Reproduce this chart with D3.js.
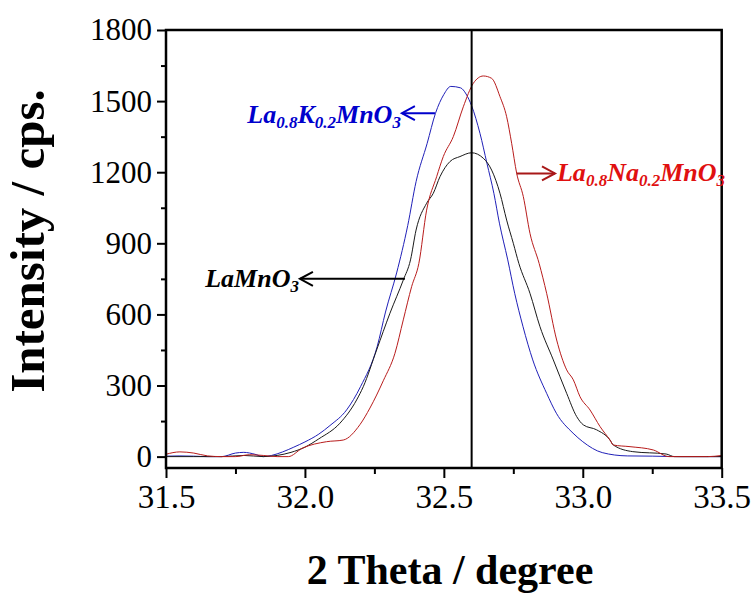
<!DOCTYPE html>
<html>
<head>
<meta charset="utf-8">
<script src="https://cdn.jsdelivr.net/npm/d3@7"></script>
<style>
  html, body { margin: 0; padding: 0; background: #fff; }
  svg { display: block; }
  text { font-family: "Liberation Serif", "Times New Roman", serif; }
</style>
</head>
<body>
<svg id="chart" width="755" height="593"></svg>
<script>
// ---------------- data ----------------
const thetaK = [31.50,31.55,31.60,31.65,31.70,31.75,31.78,31.82,31.85,31.88,31.92,31.96,32.00,32.05,32.09,32.15,32.20,32.26,32.29,32.33,32.37,32.40,32.44,32.47,32.50,32.525,32.56,32.58,32.60,32.63,32.655,32.68,32.70,32.73,32.755,32.785,32.82,32.87,32.905,32.965,33.00,33.07,33.16,33.25,33.35,33.50];
const intK   = [2,3,2,0,0,15,18,10,0,5,20,40,62,95,131,197,295,464,610,775,975,1160,1322,1449,1528,1562,1556,1530,1480,1364,1238,1111,985,830,689,548,408,267,183,99,63,17,3,2,0,0];

const thetaLa = [31.50,31.60,31.70,31.78,31.85,31.90,31.95,32.00,32.05,32.126,32.186,32.21,32.258,32.306,32.354,32.38,32.40,32.438,32.462,32.486,32.522,32.558,32.60,32.642,32.672,32.702,32.726,32.75,32.77,32.81,32.846,32.894,32.942,32.978,33.002,33.05,33.098,33.11,33.18,33.30,33.33,33.50];
const intLa   = [0,0,0,5,0,5,18,40,75,141,239,295,450,605,745,830,956,1069,1111,1181,1245,1266,1282,1259,1209,1111,998,900,815,689,548,408,267,169,134,113,70,49,21,11,0,0];

const thetaNa = [31.50,31.55,31.60,31.65,31.70,31.75,31.80,31.85,31.90,31.94,31.99,32.078,32.138,32.198,32.234,32.282,32.324,32.354,32.384,32.41,32.438,32.474,32.498,32.534,32.57,32.606,32.642,32.672,32.702,32.726,32.744,32.762,32.786,32.81,32.843,32.87,32.906,32.942,32.966,32.99,33.026,33.062,33.098,33.11,33.17,33.254,33.31,33.45,33.50];
const intNa   = [10,20,15,3,0,0,8,5,0,0,35,63,70,135,205,320,436,577,717,815,1040,1181,1266,1350,1476,1575,1606,1596,1519,1434,1322,1196,1097,942,815,689,492,366,324,253,197,127,70,49,42,28,0,0,5];

const xTicks = [31.5, 32.0, 32.5, 33.0, 33.5];
const yTicks = [0, 300, 600, 900, 1200, 1500, 1800];
const refLine = 32.6;

// labels: segments [text, isSubscript]
const labelK  = [["La",0],["0.8",1],["K",0],["0.2",1],["MnO",0],["3",1]];
const labelNa = [["La",0],["0.8",1],["Na",0],["0.2",1],["MnO",0],["3",1]];
const labelLa = [["LaMnO",0],["3",1]];

// annotation arrows in data space: [tail theta, tip theta, intensity]
const arrowK  = [32.468, 32.349, 1449];
const arrowNa = [32.762, 32.900, 1195];
const arrowLa = [32.360, 31.982, 750];

// ---------------- chart ----------------
const svg = d3.select("#chart");
const L = 166, R = 721.7, T = 30, B = 468;
const x = d3.scaleLinear().domain([31.5, 33.5]).range([L, R]);
const y = d3.scaleLinear().domain([-48, 1800]).range([B, T]);

const serif = '"Liberation Serif", "Times New Roman", serif';

// series
const series = [
  {th: thetaK,  v: intK,  color: "#2020b8"},
  {th: thetaLa, v: intLa, color: "#1a1a1a"},
  {th: thetaNa, v: intNa, color: "#b81c1c"}
];
const line = d3.line().x(d => x(d[0])).y(d => y(d[1])).curve(d3.curveMonotoneX);
series.forEach(s => {
  svg.append("path")
    .datum(s.th.map((t, i) => [t, s.v[i]]))
    .attr("d", line)
    .attr("fill", "none")
    .attr("stroke", s.color)
    .attr("stroke-width", 1);
});

// reference vertical line
svg.append("line")
  .attr("x1", x(refLine)).attr("x2", x(refLine))
  .attr("y1", T).attr("y2", B)
  .attr("stroke", "#000").attr("stroke-width", 2);

// axes
const xAxis = d3.axisBottom(x).tickValues(xTicks).tickFormat(d3.format(".1f")).tickSize(10).tickPadding(7);
const gx = svg.append("g").attr("transform", `translate(0,${B})`).call(xAxis);
const xMinor = d3.axisBottom(x).tickValues([31.75, 32.25, 32.75, 33.25]).tickFormat("").tickSize(6);
svg.append("g").attr("transform", `translate(0,${B})`).call(xMinor);

const yAxis = d3.axisLeft(y).tickValues(yTicks).tickFormat(d3.format("d")).tickSize(9).tickPadding(5);
const gy = svg.append("g").attr("transform", `translate(${L},0)`).call(yAxis);
const yMinor = d3.axisLeft(y).tickValues([150, 450, 750, 1050, 1350, 1650]).tickFormat("").tickSize(5);
svg.append("g").attr("transform", `translate(${L},0)`).call(yMinor);

svg.selectAll(".domain").remove();
svg.selectAll(".tick line").attr("stroke", "#000").attr("stroke-width", 2);
gx.selectAll(".tick text").attr("font-family", serif).attr("font-size", 33).attr("fill", "#000");
gy.selectAll(".tick text").attr("font-family", serif).attr("font-size", 31).attr("fill", "#000");

// frame
svg.append("rect")
  .attr("x", L).attr("y", T).attr("width", R - L).attr("height", B - T)
  .attr("fill", "none").attr("stroke", "#000").attr("stroke-width", 2.5);

// axis titles
svg.append("text")
  .attr("x", 450).attr("y", 584)
  .attr("text-anchor", "middle")
  .attr("font-family", serif).attr("font-weight", "bold").attr("font-size", 42)
  .text("2 Theta / degree");
svg.append("text")
  .attr("transform", `translate(44,241) rotate(-90)`)
  .attr("text-anchor", "middle")
  .attr("font-family", serif).attr("font-weight", "bold").attr("font-size", 49)
  .text("Intensity / cps.");

// annotations
function arrow(a, color) {
  const x1 = x(a[0]), x2 = x(a[1]), yy = y(a[2]);
  const dir = x2 > x1 ? 1 : -1;
  svg.append("line").attr("x1", x1).attr("x2", x2).attr("y1", yy).attr("y2", yy)
    .attr("stroke", color).attr("stroke-width", 2);
  svg.append("polyline")
    .attr("points", `${x2 - dir * 13},${yy - 7} ${x2},${yy} ${x2 - dir * 13},${yy + 7}`)
    .attr("fill", "none").attr("stroke", color).attr("stroke-width", 2);
  return {tip: x2, y: yy};
}
function label(segs, px, py, anchor, color) {
  const t = svg.append("text")
    .attr("x", px).attr("y", py).attr("text-anchor", anchor)
    .attr("font-family", serif).attr("font-weight", "bold").attr("font-style", "italic")
    .attr("font-size", 26).attr("fill", color);
  segs.forEach((s, i) => {
    const prevSub = i > 0 && segs[i - 1][1];
    const span = t.append("tspan").text(s[0]);
    if (s[1]) span.attr("font-size", 17).attr("dy", 5);
    else if (prevSub) span.attr("dy", -5);
  });
}
const aK = arrow(arrowK, "#0000cc");
label(labelK, aK.tip - 1, aK.y + 10, "end", "#0000cc");
const aNa = arrow(arrowNa, "#a81818");
label(labelNa, aNa.tip + 2, aNa.y + 8, "start", "#e01010");
const aLa = arrow(arrowLa, "#000");
label(labelLa, aLa.tip - 1, aLa.y + 8, "end", "#000");
</script>
</body>
</html>
